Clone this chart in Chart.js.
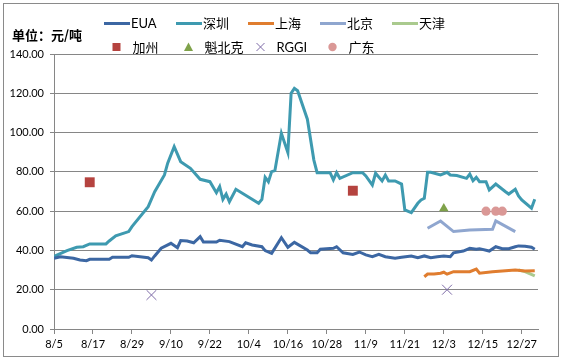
<!DOCTYPE html>
<html><head><meta charset="utf-8">
<script src="https://cdn.jsdelivr.net/npm/chart.js@4.4.1/dist/chart.umd.min.js"></script>
<style>html,body{margin:0;padding:0;background:#fff}#wrap{width:561px;height:360px;position:relative}</style>
</head><body><div id="wrap"><canvas id="c" width="561" height="360"></canvas></div>
<script>
// ---------- data ----------
const unitLabel = '单位：元/吨';
const tickLabels = ['8/5','8/17','8/29','9/10','9/22','10/4','10/16','10/28','11/9','11/21','12/3','12/15','12/27'];
const axisStart = '8/5';
const axisEnd = '1/1';
const yTickValues = [0,20,40,60,80,100,120,140];

const euaDates = ['8/5','8/7','8/11','8/13','8/15','8/16','8/22','8/23','8/28','8/29','9/3','9/4','9/5','9/7','9/10','9/12','9/13','9/15','9/17','9/19','9/20','9/24','9/25','9/28','10/2','10/3','10/5','10/8','10/9','10/11','10/14','10/16','10/18','10/22','10/23','10/25','10/26','10/30','10/31','11/2','11/5','11/7','11/9','11/11','11/13','11/15','11/18','11/20','11/23','11/25','11/27','11/29','12/1','12/3','12/5','12/6','12/9','12/11','12/13','12/14','12/17','12/19','12/21','12/23','12/25','12/26','12/28','12/30','12/31'];
const euaValues = [36,36.8,36,35.1,34.8,35.5,35.5,36.5,36.5,37.3,36.3,35.1,37.2,41.1,43.6,41.4,45,44.8,43.9,47,44.3,44.3,45.2,44.5,41.9,43.9,42.8,41.9,39.9,38.5,46.5,41.6,44.1,40.2,38.8,38.8,40.6,41.1,41.9,38.8,38,39.2,37.7,36.8,38,36.8,36,36.5,37.2,36.3,37.2,36.3,36.8,37.2,36.8,38.8,39.7,41.1,40.6,40.9,39.7,41.9,40.9,40.9,41.9,42.3,42.1,41.6,40.6];

const shenzhenDates = ['8/5','8/9','8/12','8/14','8/16','8/21','8/22','8/24','8/28','8/29','9/3','9/5','9/8','9/9','9/11','9/13','9/16','9/19','9/22','9/24','9/25','9/26','9/27','9/28','9/30','10/7','10/8','10/9','10/10','10/11','10/12','10/14','10/16','10/17','10/18','10/19','10/22','10/24','10/25','10/29','10/30','10/31','11/1','11/5','11/8','11/9','11/11','11/12','11/14','11/15','11/16','11/18','11/20','11/21','11/23','11/25','11/26','11/27','11/28','11/29','12/2','12/4','12/5','12/7','12/10','12/11','12/12','12/13','12/14','12/16','12/17','12/19','12/22','12/23','12/25','12/26','12/27','12/30','12/31'];
const shenzhenValues = [37,39.9,41.6,41.9,43.3,43.3,44.8,47.4,49.6,52.1,62.3,69.9,78.4,84.4,92.8,85.2,81.8,76.2,75,69.4,72.5,66,68.7,64.8,71.1,64,66,77.2,75,80.1,80.6,99.6,89.8,120,122.5,121.3,106.8,86,79.6,79.6,75.9,79.6,76.7,79.6,79.6,77.9,73.3,79.3,75.4,78.4,75.4,75.4,73.8,60.6,59.2,64,65.7,66.5,79.8,79.8,78.4,79.8,78.4,78.1,76.7,78.9,75.5,77.2,75,75,70.8,73.8,69.9,68.7,71.1,67.7,65.7,61.5,66];

const shanghaiDates = ['11/27','11/28','11/30','12/2','12/3','12/4','12/6','12/8','12/11','12/13','12/14','12/18','12/22','12/25','12/28','12/31'];
const shanghaiValues = [26.6,28,28,28.4,28.9,27.9,29.2,29.2,29.2,30.5,28.4,29.2,29.7,30,29.5,29.7];

const beijingDates = ['11/28','12/2','12/6','12/11','12/18','12/19','12/25'];
const beijingValues = [51.3,55,49.6,50.4,50.8,55,49.6];

const tianjinDates = ['12/26','12/28','12/31'];
const tianjinValues = [30,29.2,27];

const californiaDates = ['8/16','11/5'];
const californiaValues = [74.7,70.4];

const quebecDates = ['12/3'];
const quebecValues = [61.3];

const rggiDates = ['9/4','12/4'];
const rggiValues = [17.3,20];

const guangdongDates = ['12/16','12/19','12/21'];
const guangdongValues = [60,60,60];

// ---------- helpers ----------
function dayIndex(md){
  const p = md.split('/').map(Number);
  const y = p[0] < 8 ? 2014 : 2013;
  return Math.round((Date.UTC(y,p[0]-1,p[1]) - Date.UTC(2013,7,5)) / 86400000);
}
function pts(dates, values){ return dates.map((d,i)=>({x: dayIndex(d), y: values[i]})); }

const COL = {
  eua:'#3C67A3', sz:'#3E9AB0', sh:'#E07D2F', bj:'#8FA6CF', tj:'#AACA8E',
  ca:'#B5433F', qc:'#7FA24A', rggi:'#7E6BA8', gd:'#DA9896'
};
const FONT = "Lato, 'Noto Sans CJK SC', sans-serif";

function lineDs(label, dates, values, color){
  return {type:'line', label, data: pts(dates, values), borderColor: color, backgroundColor: color,
    borderWidth: 3, pointRadius: 0, pointHoverRadius: 0, tension: 0, fill: false, legendRow: 1};
}
function markDs(label, dates, values, color, style, radius, bw){
  return {type:'line', label, data: pts(dates, values), showLine: false, pointStyle: style,
    pointRadius: radius, pointHoverRadius: radius, backgroundColor: color, borderColor: color,
    borderWidth: bw, legendRow: 2};
}

const datasets = [
  lineDs('EUA', euaDates, euaValues, COL.eua),
  lineDs('深圳', shenzhenDates, shenzhenValues, COL.sz),
  lineDs('上海', shanghaiDates, shanghaiValues, COL.sh),
  lineDs('北京', beijingDates, beijingValues, COL.bj),
  lineDs('天津', tianjinDates, tianjinValues, COL.tj),
  markDs('加州', californiaDates, californiaValues, COL.ca, 'rect', 7, 0),
  markDs('魁北克', quebecDates, quebecValues, COL.qc, 'triangle', 5.5, 0),
  markDs('RGGI', rggiDates, rggiValues, COL.rggi, 'crossRot', 7, 1),
  markDs('广东', guangdongDates, guangdongValues, COL.gd, 'circle', 4.6, 0)
];

// ---------- decorations: frame, unit title, legend ----------
const deco = {
  id: 'deco',
  beforeDraw(chart){
    const ctx = chart.ctx;
    ctx.save();
    ctx.fillStyle = '#fff';
    ctx.fillRect(0,0,chart.width,chart.height);
    ctx.restore();
  },
  afterDraw(chart){
    const ctx = chart.ctx;
    ctx.save();
    ctx.strokeStyle = '#8a8a8a';
    ctx.lineWidth = 1;
    ctx.strokeRect(3.5, 3.5, 555, 353);

    ctx.fillStyle = '#000';
    ctx.textBaseline = 'middle';
    ctx.textAlign = 'left';
    ctx.font = "bold 13px 'Noto Sans CJK SC', sans-serif";
    ctx.fillText(unitLabel, 12, 35);

    ctx.font = "13px " + FONT;
    const colX = [104, 176, 248, 320, 392];
    let i1 = 0, i2 = 0;
    chart.data.datasets.forEach(ds => {
      if (ds.legendRow === 1) {
        const x = colX[i1++], y = 23.5;
        ctx.strokeStyle = ds.borderColor; ctx.lineWidth = 3;
        ctx.beginPath(); ctx.moveTo(x, y); ctx.lineTo(x + 26, y); ctx.stroke();
        ctx.fillStyle = '#000';
        ctx.fillText(ds.label, x + 27, y + 0.5);
      } else {
        const cx = colX[i2++] + 12.5, cy = 47;
        ctx.fillStyle = ds.backgroundColor; ctx.strokeStyle = ds.borderColor;
        ctx.beginPath();
        if (ds.pointStyle === 'rect') { ctx.fillRect(cx - 4, cy - 4, 8, 8); }
        else if (ds.pointStyle === 'triangle') {
          ctx.moveTo(cx, cy - 4.5); ctx.lineTo(cx + 4.5, cy + 4); ctx.lineTo(cx - 4.5, cy + 4); ctx.closePath(); ctx.fill();
        } else if (ds.pointStyle === 'crossRot') {
          ctx.lineWidth = 1;
          ctx.moveTo(cx - 4, cy - 4); ctx.lineTo(cx + 4, cy + 4);
          ctx.moveTo(cx + 4, cy - 4); ctx.lineTo(cx - 4, cy + 4); ctx.stroke();
        } else { ctx.arc(cx, cy, 4.2, 0, Math.PI * 2); ctx.fill(); }
        ctx.fillStyle = '#000';
        ctx.fillText(ds.label, cx + 16, cy + 0.5);
      }
    });
    ctx.restore();
  }
};

new Chart(document.getElementById('c'), {
  type: 'line',
  data: { datasets },
  plugins: [deco],
  options: {
    responsive: false, animation: false, devicePixelRatio: 1,
    parsing: true,
    layout: { padding: { top: 54, right: 23, bottom: 0, left: 0 } },
    plugins: { legend: { display: false }, tooltip: { enabled: false } },
    scales: {
      x: {
        type: 'linear', min: dayIndex(axisStart), max: dayIndex(axisEnd),
        afterBuildTicks: s => { s.ticks = tickLabels.map(t => ({ value: dayIndex(t) })); },
        afterFit: s => { s.height = 31; },
        ticks: { autoSkip: false, maxRotation: 0, minRotation: 0, padding: 4, color: '#000',
          font: { family: FONT, size: 11 },
          callback: (v, i) => tickLabels[i] },
        grid: { drawOnChartArea: false, drawTicks: true, tickLength: 5, color: '#868686' },
        border: { display: true, color: '#868686', width: 1 }
      },
      y: {
        min: 0, max: 140,
        afterBuildTicks: s => { s.ticks = yTickValues.map(v => ({ value: v })); },
        afterFit: s => { s.width = 54; },
        ticks: { padding: 6, color: '#000', font: { family: FONT, size: 11 },
          callback: v => Number(v).toFixed(2) },
        grid: { color: '#868686', tickLength: 4, drawTicks: true },
        border: { display: true, color: '#868686', width: 1 }
      }
    }
  }
});
</script>
</body></html>
